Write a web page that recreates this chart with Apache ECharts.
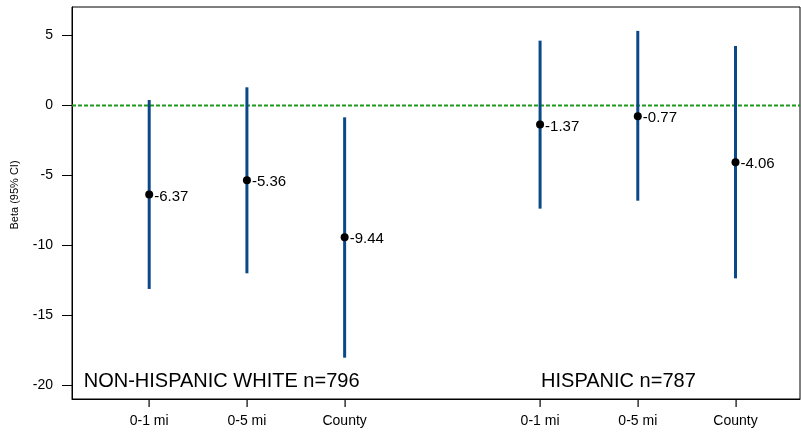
<!DOCTYPE html>
<html>
<head>
<meta charset="utf-8">
<script src="https://cdn.jsdelivr.net/npm/echarts@6/dist/echarts.min.js"></script>
<style>html,body{margin:0;padding:0;background:#fff}#c{width:801px;height:433px}</style>
</head>
<body>
<div id="c"></div>
<script>
var xPositions = [1, 2, 3, 5, 6, 7];
var xLabels = ['0-1 mi', '0-5 mi', 'County', '0-1 mi', '0-5 mi', 'County'];
var betas = [-6.37, -5.36, -9.44, -1.37, -0.77, -4.06];
var ciLow = [-13.14, -12.02, -18.06, -7.39, -6.82, -12.38];
var ciHigh = [0.39, 1.30, -0.85, 4.64, 5.34, 4.26];
var yTicks = [-20, -15, -10, -5, 0, 5];
var groupLabels = ['NON-HISPANIC WHITE n=796', 'HISPANIC n=787'];
var groupLabelX = [0.33, 5.01];
var groupLabelY = -19.73;

var FONT = 'Liberation Sans, Arial, sans-serif';
var Y_MIN = -21.02, Y_MAX = 7.05, X_MIN = 0.21, X_MAX = 7.66;
var chart = echarts.init(document.getElementById('c'), null, {renderer: 'canvas'});

var ciData = xPositions.map(function (x, i) { return [x, ciLow[i], ciHigh[i]]; });
var ptData = xPositions.map(function (x, i) { return [x, betas[i]]; });
var grpData = groupLabels.map(function (t, i) { return {value: [groupLabelX[i], groupLabelY], name: t}; });

chart.setOption({
  animation: false,
  backgroundColor: '#fff',
  grid: {left: 72, right: 1, top: 7, bottom: 34, show: true, borderColor: '#000', borderWidth: 1, backgroundColor: 'transparent'},
  xAxis: {
    type: 'value', min: X_MIN, max: X_MAX, position: 'bottom',
    axisLine: {show: true, onZero: false, lineStyle: {color: '#000', width: 1}},
    splitLine: {show: false},
    axisTick: {show: false},
    axisLabel: {
      show: true, margin: 15, color: '#000', fontFamily: FONT, fontSize: 14,
      customValues: xPositions,
      formatter: function (v) { var i = xPositions.indexOf(Math.round(v)); return i >= 0 ? xLabels[i] : ''; }
    }
  },
  yAxis: {
    type: 'value', min: Y_MIN, max: Y_MAX, position: 'left',
    name: 'Beta (95% CI)', nameLocation: 'middle', nameGap: 52,
    nameTextStyle: {color: '#000', fontFamily: FONT, fontSize: 11, padding: [0, 0, 0, 16]},
    axisLine: {show: true, onZero: false, lineStyle: {color: '#000', width: 1}},
    splitLine: {show: false},
    axisTick: {show: true, inside: false, length: 10, lineStyle: {color: '#000', width: 1}, customValues: yTicks},
    axisLabel: {show: true, margin: 19, color: '#000', fontFamily: FONT, fontSize: 14, customValues: yTicks}
  },
  series: [
    {
      type: 'line', data: [[X_MIN, 0], [X_MAX, 0]], symbol: 'none', silent: true,
      lineStyle: {color: '#1f9a1f', width: 2, type: [4, 2]}, z: 1
    },
    {
      type: 'custom', data: ciData, z: 2,
      renderItem: function (params, api) {
        var x = api.value(0);
        var p1 = api.coord([x, api.value(1)]);
        var p2 = api.coord([x, api.value(2)]);
        return {type: 'line', shape: {x1: p1[0], y1: p1[1], x2: p2[0], y2: p2[1]},
                style: {stroke: '#0a4888', lineWidth: 3}};
      },
      encode: {x: 0, y: [1, 2]}
    },
    {
      type: 'scatter', data: ptData, symbol: 'circle', symbolSize: 8, z: 3,
      itemStyle: {color: '#000', opacity: 1},
      label: {show: true, position: 'right', distance: 1, color: '#000', opacity: 1, fontFamily: FONT, fontSize: 15,
              formatter: function (p) { return p.value[1].toFixed(2); }, offset: [0, 2]}
    },
    {
      type: 'scatter', data: grpData, symbolSize: 0, z: 3, silent: true,
      itemStyle: {opacity: 1},
      label: {show: true, position: 'right', distance: 0, color: '#000', opacity: 1, fontFamily: FONT, fontSize: 20,
              formatter: function (p) { return p.name; }}
    }
  ]
});

// bottom-axis tick marks, placed through the chart's own x scale
var rect = chart.getModel().getComponent('grid', 0).coordinateSystem.getRect();
var xAxisObj = chart.getModel().getComponent('xAxis', 0).axis;
var tickEls = xPositions.map(function (x) {
  var px = Math.round(xAxisObj.toGlobalCoord(xAxisObj.dataToCoord(x)));
  return {type: 'rect', z: 100, zlevel: 0, silent: true,
          shape: {x: px - 0.5, y: rect.y + rect.height, width: 1.2, height: 8},
          style: {fill: '#000'}};
});
chart.setOption({graphic: tickEls});
</script>
</body>
</html>
